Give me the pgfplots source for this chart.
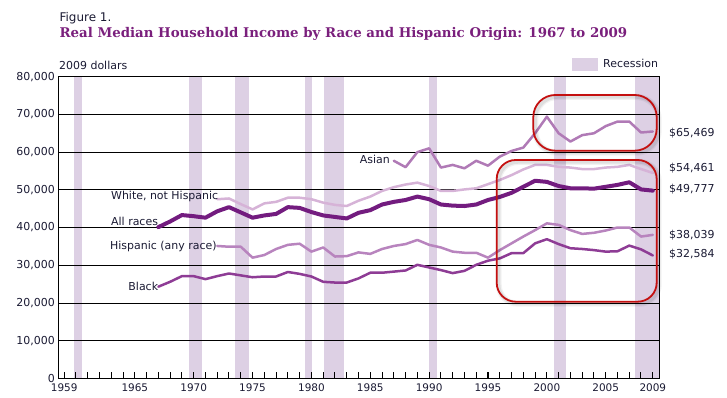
\documentclass[border=0pt]{standalone}
\usepackage{fontspec}
\setmainfont{DejaVu Sans}
\newfontfamily\titlefont{DejaVu Serif}
\usepackage{pgfplots}
\pgfplotsset{compat=1.18}
\definecolor{allc}{HTML}{731C7F}
\definecolor{whitec}{HTML}{D6B3D7}
\definecolor{asianc}{HTML}{B07AB6}
\definecolor{hispc}{HTML}{B884BE}
\definecolor{blackc}{HTML}{8E3C95}
\definecolor{recc}{HTML}{DDD0E4}
\definecolor{titlec}{HTML}{7A1F7C}
\definecolor{redc}{HTML}{C41010}
\definecolor{txt}{HTML}{1A1A33}
\begin{document}
\begin{tikzpicture}
\useasboundingbox (0bp,0bp) rectangle (727bp,398bp);
\begin{axis}[
  scale only axis,
  width=601bp, height=301.6bp,
  at={(58.3bp,19.7bp)}, anchor=south west,
  xmin=1958.5, xmax=2009.55,
  ymin=0, ymax=80000,
  axis on top,
  axis line style={black, line width=1bp},
  ytick={0,10000,...,80000},
  ytick style={draw=none},
  scaled y ticks=false,
  yticklabel style={font=\fontsize{11}{13}\selectfont, text=txt,
    /pgf/number format/.cd, 1000 sep={,}, assume math mode=true},
  xtick={1959,1965,1970,1975,1980,1985,1990,1995,2000,2005,2009},
  minor xtick={1959,...,2009},
  xtick pos=bottom, xtick align=inside,
  major tick length=6.5bp, minor tick length=6.5bp,
  tick style={black, line width=1bp},
  xticklabel style={font=\fontsize{10.5}{12}\selectfont, text=txt, yshift=-2bp,
    /pgf/number format/.cd, 1000 sep={}, assume math mode=true},
  no markers,
  every axis plot/.append style={line join=round, line cap=round},
]
% recession bands
\fill[recc] (axis cs:1959.85,0) rectangle (axis cs:1960.53,80000);
\fill[recc] (axis cs:1969.62,0) rectangle (axis cs:1970.70,80000);
\fill[recc] (axis cs:1973.52,0) rectangle (axis cs:1974.71,80000);
\fill[recc] (axis cs:1979.47,0) rectangle (axis cs:1980.06,80000);
\fill[recc] (axis cs:1981.08,0) rectangle (axis cs:1982.78,80000);
\fill[recc] (axis cs:1989.99,0) rectangle (axis cs:1990.65,80000);
\fill[recc] (axis cs:2000.62,0) rectangle (axis cs:2001.64,80000);
\fill[recc] (axis cs:2007.47,0) rectangle (axis cs:2009.55,80000);
% horizontal grid
\draw[black, line width=0.8bp] (axis cs:1958.5,10000) -- (axis cs:2009.55,10000);
\draw[black, line width=0.8bp] (axis cs:1958.5,20000) -- (axis cs:2009.55,20000);
\draw[black, line width=0.8bp] (axis cs:1958.5,30000) -- (axis cs:2009.55,30000);
\draw[black, line width=0.8bp] (axis cs:1958.5,40000) -- (axis cs:2009.55,40000);
\draw[black, line width=0.8bp] (axis cs:1958.5,50000) -- (axis cs:2009.55,50000);
\draw[black, line width=0.8bp] (axis cs:1958.5,60000) -- (axis cs:2009.55,60000);
\draw[black, line width=0.8bp] (axis cs:1958.5,70000) -- (axis cs:2009.55,70000);
% Black
\addplot[blackc, line width=2.5bp] coordinates {
(1967,24300)(1968,25600)(1969,27100)(1970,27100)(1971,26300)(1972,27100)(1973,27800)
(1974,27300)(1975,26800)(1976,27000)(1977,27000)(1978,28200)(1979,27700)(1980,27000)
(1981,25600)(1982,25400)(1983,25400)(1984,26500)(1985,28000)(1986,28000)(1987,28300)
(1988,28600)(1989,30100)(1990,29400)(1991,28700)(1992,27900)(1993,28500)(1994,30100)
(1995,31200)(1996,31800)(1997,33200)(1998,33200)(1999,35800)(2000,36900)(2001,35600)
(2002,34500)(2003,34300)(2004,34000)(2005,33600)(2006,33700)(2007,35200)(2008,34200)
(2009,32584)};
% Hispanic
\addplot[hispc, line width=2.5bp] coordinates {
(1972,35100)(1973,34900)(1974,34900)(1975,32000)(1976,32700)(1977,34300)(1978,35400)
(1979,35700)(1980,33600)(1981,34700)(1982,32300)(1983,32400)(1984,33400)(1985,33000)
(1986,34300)(1987,35100)(1988,35600)(1989,36700)(1990,35400)(1991,34700)(1992,33600)
(1993,33300)(1994,33300)(1995,32000)(1996,34000)(1997,35800)(1998,37600)(1999,39300)
(2000,41100)(2001,40700)(2002,39300)(2003,38300)(2004,38600)(2005,39200)(2006,40000)
(2007,40000)(2008,37600)(2009,38039)};
% White, not Hispanic
\addplot[whitec, line width=2.5bp] coordinates {
(1972,47500)(1973,47700)(1974,46200)(1975,44800)(1976,46400)(1977,46800)(1978,47900)
(1979,47900)(1980,47500)(1981,46600)(1982,46000)(1983,45700)(1984,47100)(1985,48200)
(1986,49700)(1987,50700)(1988,51400)(1989,51900)(1990,51000)(1991,49700)(1992,49700)
(1993,50100)(1994,50400)(1995,51500)(1996,52600)(1997,53900)(1998,55400)(1999,56600)
(2000,56600)(2001,56100)(2002,55900)(2003,55500)(2004,55500)(2005,55900)(2006,56100)
(2007,56600)(2008,55500)(2009,54461)};
% Asian
\addplot[asianc, line width=2.5bp] coordinates {
(1987,57700)(1988,56000)(1989,60000)(1990,61000)(1991,55900)(1992,56600)(1993,55700)
(1994,57700)(1995,56400)(1996,58800)(1997,60300)(1998,61200)(1999,65000)(2000,69400)
(2001,65000)(2002,62800)(2003,64500)(2004,65000)(2005,66900)(2006,68100)(2007,68100)
(2008,65200)(2009,65469)};
% All races
\addplot[allc, line width=4bp] coordinates {
(1967,40100)(1968,41600)(1969,43300)(1970,43000)(1971,42600)(1972,44300)(1973,45400)
(1974,44000)(1975,42600)(1976,43200)(1977,43600)(1978,45400)(1979,45200)(1980,44100)
(1981,43200)(1982,42800)(1983,42400)(1984,43900)(1985,44600)(1986,46100)(1987,46800)
(1988,47300)(1989,48200)(1990,47500)(1991,46100)(1992,45800)(1993,45700)(1994,46100)
(1995,47300)(1996,48100)(1997,49200)(1998,50800)(1999,52400)(2000,52100)(2001,51000)
(2002,50400)(2003,50400)(2004,50300)(2005,50800)(2006,51300)(2007,52000)(2008,50100)
(2009,49777)};
\end{axis}
% highlight frames with soft shadow
\foreach \w/\o in {6/0.05,3.5/0.08}{
  \draw[black, line width=\w bp, opacity=\o, rounded corners=22bp]
    (535.3bp,245.3bp) rectangle (658.7bp,301bp);
  \draw[black, line width=\w bp, opacity=\o, rounded corners=19bp]
    (498.7bp,94.3bp) rectangle (658.7bp,236bp);
}
\draw[redc, line width=1.8bp, rounded corners=22bp]
  (533.3bp,247.3bp) rectangle (656.7bp,303bp);
\draw[redc, line width=1.8bp, rounded corners=19bp]
  (496.7bp,96.3bp) rectangle (656.7bp,238bp);
% texts
\begin{scope}[every node/.style={inner sep=0pt, text=txt, font=\fontsize{11}{13}\selectfont}]
\node[anchor=base west] at (59.4bp,376.3bp) {\fontsize{12}{14}\selectfont Figure 1.};
\node[anchor=base west, text=titlec] at (59.4bp,360.3bp) {\titlefont\bfseries\fontsize{13.4}{16}\selectfont Real Median Household Income by Race and Hispanic Origin: 1967 to 2009};
\node[anchor=base west] at (59bp,328bp) {2009 dollars};
\fill[recc] (572bp,327bp) rectangle (598bp,340bp);
\node[anchor=base west] at (603bp,330.7bp) {Recession};
\node[anchor=base west] at (111bp,198bp) {White, not Hispanic};
\node[anchor=base west] at (111bp,172.3bp) {All races};
\node[anchor=base west] at (110bp,148.7bp) {Hispanic (any race)};
\node[anchor=base east] at (158.3bp,107bp) {Black};
\node[anchor=base east] at (390bp,234bp) {Asian};
\node[anchor=base west] at (669bp,261.3bp) {\$65,469};
\node[anchor=base west] at (669bp,226bp) {\$54,461};
\node[anchor=base west] at (669bp,205.3bp) {\$49,777};
\node[anchor=base west] at (669bp,159bp) {\$38,039};
\node[anchor=base west] at (669bp,140.3bp) {\$32,584};
\end{scope}
\end{tikzpicture}
\end{document}
